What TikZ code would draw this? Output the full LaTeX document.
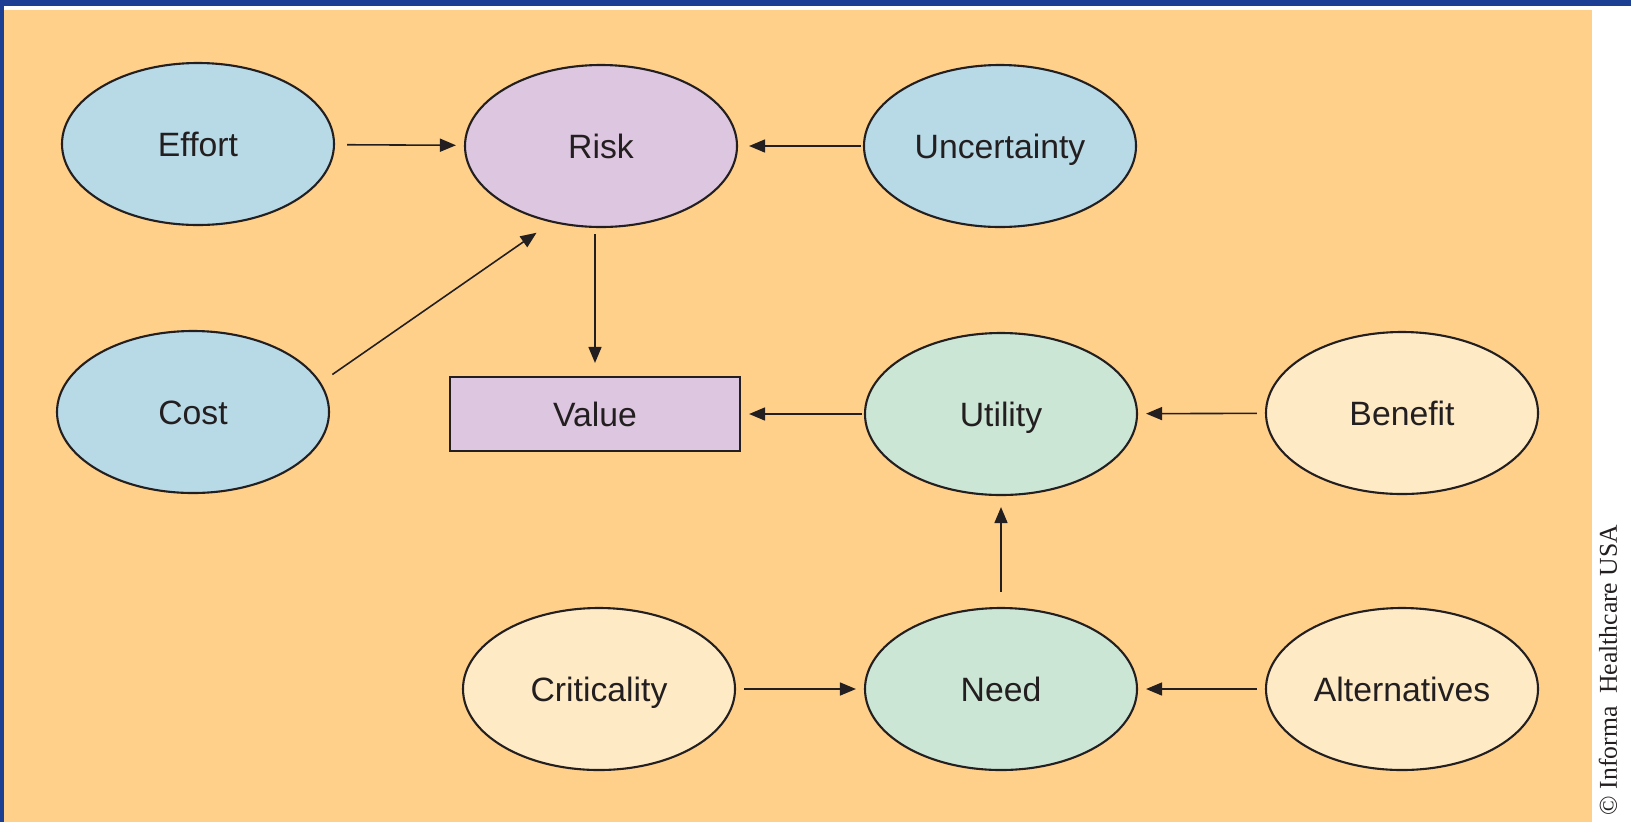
\documentclass[tikz,border=0pt]{standalone}
\usepackage{fontspec}
\setmainfont{Liberation Sans}
\newfontfamily\notefont{Liberation Serif}
\usepackage{tikz}
\usetikzlibrary{arrows.meta,shapes.geometric}
\definecolor{frameblue}{HTML}{1C3F94}
\definecolor{bgorange}{HTML}{FFD08A}
\definecolor{nodeblue}{HTML}{B8D9E6}
\definecolor{nodepurple}{HTML}{DDC6DF}
\definecolor{nodegreen}{HTML}{CCE6D5}
\definecolor{nodecream}{HTML}{FEEBC6}
\definecolor{inkgray}{HTML}{231F20}

\begin{document}
\begin{tikzpicture}[
    oval/.style={draw=inkgray, ellipse, line width=0.6pt, inner sep=0pt, minimum width=2.72cm, minimum height=1.62cm, text height=7pt, text depth=0pt, align=center, text=inkgray, font=\fontsize{9.6}{11}\selectfont},
    rect/.style={draw=inkgray, line width=0.6pt, minimum width=2.9cm, minimum height=0.74cm, text height=7pt, text depth=0pt, align=center, text=inkgray, font=\fontsize{9.6}{11}\selectfont},
    arr/.style={-{Triangle[length=1.6mm, width=1.3mm]}, line width=0.45pt, draw=inkgray, fill=inkgray, shorten <=0.08cm, shorten >=0.08cm}
]
\useasboundingbox (0,0) rectangle (16.31,-8.22);
\fill[white]      (0,0)     rectangle (16.31,-8.22);
\fill[frameblue]  (0,0)     rectangle (16.31,-0.06);
\fill[frameblue]  (0,0)     rectangle (0.04,-8.22);
\fill[bgorange]   (0.04,-0.10) rectangle (15.92,-8.22);

\node[oval, fill=nodeblue]   (effort)  at (1.98,-1.44)  {Effort};
\node[oval, fill=nodepurple] (risk)    at (6.01,-1.46)  {Risk};
\node[oval, fill=nodeblue]   (uncert)  at (10.00,-1.46) {Uncertainty};

\node[oval, fill=nodeblue]   (cost)    at (1.93,-4.12)  {Cost};
\node[rect, fill=nodepurple] (value)   at (5.95,-4.14)  {Value};
\node[oval, fill=nodegreen]  (utility) at (10.01,-4.14) {Utility};
\node[oval, fill=nodecream]  (benefit) at (14.02,-4.13) {Benefit};

\node[oval, fill=nodecream]  (crit)    at (5.99,-6.89)  {Criticality};
\node[oval, fill=nodegreen]  (need)    at (10.01,-6.89) {Need};
\node[oval, fill=nodecream]  (alt)     at (14.02,-6.89) {Alternatives};

\node[rotate=90, inner sep=0pt, text=inkgray, font=\notefont\fontsize{7.3}{9}\selectfont] (note) at (16.08,-6.70) {\textcopyright\ Informa\ \ Healthcare USA};

\draw[arr, shorten <=0.12cm] (effort) -- (risk);
\draw[arr, shorten <=0.02cm, shorten >=0.11cm] (uncert) -- (risk);
\draw[arr, shorten <=0.14cm, shorten >=0.18cm] (cost.13) -- (risk.237);
\draw[arr, shorten <=0.06cm, shorten >=0.13cm] (risk.south -| value.north) -- (value.north);
\draw[arr, shorten <=0.02cm] (utility) -- (value);
\draw[arr] (benefit) -- (utility);
\draw[arr, shorten <=0.15cm, shorten >=0.11cm] (need) -- (utility);
\draw[arr] (crit) -- (need);
\draw[arr] (alt) -- (need);
\end{tikzpicture}
\end{document}
